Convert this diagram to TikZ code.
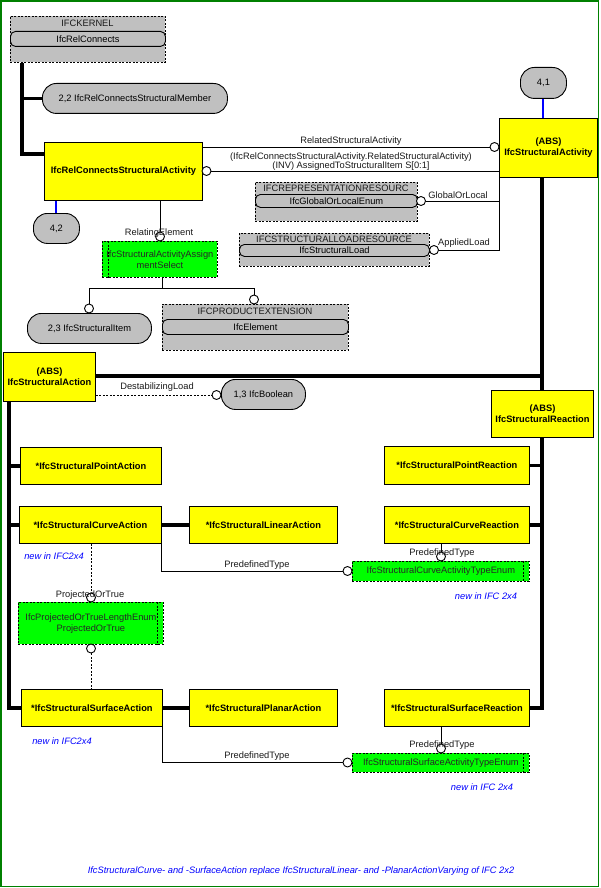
\documentclass[tikz,border=0pt]{standalone}
\usepackage{fontspec}
\setmainfont{Liberation Sans}
\usetikzlibrary{calc}
\definecolor{ifcyellow}{RGB}{255,255,0}
\definecolor{ifcgray}{RGB}{192,192,192}
\definecolor{ifcgreen}{RGB}{0,255,0}
\definecolor{framegreen}{RGB}{0,128,0}
\definecolor{noteblue}{RGB}{0,0,255}
\begin{document}
\begin{tikzpicture}[x=1pt,y=-1pt,
  font=\fontsize{9.3}{11}\selectfont,
  sz/.style 2 args={minimum width=#1,minimum height=#2},
  cls/.style={draw,fill=ifcyellow,line width=0.9,inner sep=0,align=center,anchor=north west,font=\fontsize{9.3}{11}\selectfont\bfseries},
  pill/.style={draw,fill=ifcgray,rounded corners=14,line width=0.9,inner sep=0,anchor=north west},
  pkg/.style={draw,fill=ifcgray,dash pattern=on 2pt off 1.5pt,line width=0.8,inner sep=0,anchor=north west},
  pkgin/.style={draw,fill=ifcgray,rounded corners=5,line width=0.9,inner sep=0,anchor=north west},
  enumbox/.style={draw,fill=ifcgreen,dash pattern=on 2pt off 1.5pt,line width=0.8,inner sep=0,align=center,anchor=north west,text=black!85},
  enumline/.style={dash pattern=on 2pt off 1.5pt,line width=0.8},
  conn/.style={line width=0.9},
  heavy/.style={line width=3.5},
  blueline/.style={draw=noteblue,line width=2},
  endc/.style={circle,draw,fill=white,minimum size=9,inner sep=0,line width=0.9},
  lbl/.style={inner sep=0,text=black!90},
  note/.style={inner sep=0,text=noteblue,font=\fontsize{9.3}{11}\selectfont\itshape}]
\useasboundingbox (0,0) rectangle (600,888);
\draw[framegreen,line width=1.5] (1,1) rectangle (598.5,886.5);

% packages and classes
\node[pkg,sz={155}{46}] (kernel) at (10,16) {};
\node[lbl] (kerneltitle) at (87.5,23.5) {IFCKERNEL};
\node[pkgin,sz={155}{15}] (relconnects) at (10,31) {IfcRelConnects};

\node[pill,sz={185}{30}] (m22) at (42,83) {2,2 IfcRelConnectsStructuralMember};
\node[cls,sz={158}{58}] (relconn) at (44,142) {IfcRelConnectsStructuralActivity};
\node[pill,sz={46}{30}] (p42) at (33,213) {4,2};
\node[pill,sz={46}{31}] (p41) at (520,67) {4,1};
\node[cls,sz={98}{59}] (act) at (499,118) {(ABS)\\IfcStructuralActivity};

\node[pkg,sz={162}{39}] (rep) at (255,182) {};
\node[lbl] (reptitle) at (336,188) {IFCREPRESENTATIONRESOURC};
\node[pkgin,sz={162}{13}] (glenum) at (255,194) {IfcGlobalOrLocalEnum};

\node[pkg,sz={190}{33}] (loadres) at (239,233) {};
\node[lbl] (loadtitle) at (334,239) {IFCSTRUCTURALLOADRESOURCE};
\node[pkgin,sz={190}{12}] (load) at (239,244) {IfcStructuralLoad};

\node[enumbox,sz={115}{36}] (assign) at (102,241) {IfcStructuralActivityAssign\\mentSelect};
\node[pill,sz={124}{30}] (item) at (27,313) {2,3 IfcStructuralItem};
\node[pkg,sz={186}{46}] (prodext) at (162,304) {};
\node[lbl] (prodtitle) at (255,311) {IFCPRODUCTEXTENSION};
\node[pkgin,sz={186}{15}] (element) at (162,319) {IfcElement};

\node[cls,sz={92}{49}] (action) at (3,352) {(ABS)\\IfcStructuralAction};
\node[pill,sz={84}{30}] (bool) at (221,379) {1,3 IfcBoolean};
\node[cls,sz={102}{47}] (reaction) at (491,390) {(ABS)\\IfcStructuralReaction};

\node[cls,sz={141}{37}] (pointaction) at (20,447) {*IfcStructuralPointAction};
\node[cls,sz={145}{38}] (pointreaction) at (384,446) {*IfcStructuralPointReaction};
\node[cls,sz={142}{37}] (curveaction) at (19,506) {*IfcStructuralCurveAction};
\node[cls,sz={148}{37}] (linearaction) at (189,506) {*IfcStructuralLinearAction};
\node[cls,sz={145}{37}] (curvereaction) at (384,506) {*IfcStructuralCurveReaction};
\node[note] (newca) at (54,556) {new in IFC2x4};

\node[enumbox,sz={145}{42}] (projenum) at (18,602) {IfcProjectedOrTrueLengthEnum\\ProjectedOrTrue};
\node[enumbox,sz={177}{20}] (curveenum) at (352,561) {IfcStructuralCurveActivityTypeEnum};
\node[note] (newcr) at (486,596) {new in IFC 2x4};

\node[cls,sz={141}{37}] (surfaceaction) at (21,689) {*IfcStructuralSurfaceAction};
\node[cls,sz={148}{37}] (planaraction) at (189,689) {*IfcStructuralPlanarAction};
\node[cls,sz={145}{37}] (surfacereaction) at (384,689) {*IfcStructuralSurfaceReaction};
\node[note] (newsa) at (62,741) {new in IFC2x4};
\node[enumbox,sz={177}{19}] (surfenum) at (352,753) {IfcStructuralSurfaceActivityTypeEnum};
\node[note] (newsr) at (482,787) {new in IFC 2x4};

\node[note] (footer) at (301,871) {IfcStructuralCurve- and -SurfaceAction replace IfcStructuralLinear- and -PlanarActionVarying of IFC 2x2};

% inner dashed lines of select/enum boxes
\draw[enumline] ([xshift=6]assign.north west) -- ([xshift=6]assign.south west);
\draw[enumline] ([xshift=-6]projenum.north east) -- ([xshift=-6]projenum.south east);
\draw[enumline] ([xshift=-6]curveenum.north east) -- ([xshift=-6]curveenum.south east);
\draw[enumline] ([xshift=-6]surfenum.north east) -- ([xshift=-6]surfenum.south east);

% end circles
\node[endc] (c1) at (494.5,147) {};
\node[endc] (c2) at (206.5,171) {};
\node[endc] (cgl) at (421,201) {};
\node[endc] (cal) at (434,250) {};
\node[endc] (crel) at (160,236.5) {};
\node[endc] (citem) at (89,308.5) {};
\node[endc] (celem) at (254,299.5) {};
\node[endc] (cbool) at (216.5,395) {};
\node[endc] (cpt1) at (91,597.5) {};
\node[endc] (cpt2) at (91,648.5) {};
\node[endc] (ccpt) at (347.5,571) {};
\node[endc] (ccr) at (441,556.5) {};
\node[endc] (cspt) at (347.5,762.5) {};
\node[endc] (csr) at (441,748.5) {};

% inheritance (thick) lines
\coordinate (kj) at (22,154);
\draw[heavy] (kernel.south -| kj) -- (kj) -- (kj -| relconn.west);
\draw[heavy] (m22.west -| kj) -- (m22.west);
\coordinate (rj) at (542,376);
\draw[heavy] (act.south -| rj) -- (rj) -- (rj -| action.east);
\draw[heavy] (rj) -- (reaction.north -| rj);
\coordinate (rb) at (542,708);
\draw[heavy] (reaction.south -| rb) -- (rb) -- (rb -| surfacereaction.east);
\draw[heavy] (pointreaction.east) -- (pointreaction.east -| rb);
\draw[heavy] (curvereaction.east) -- (curvereaction.east -| rb);
\coordinate (lb) at (9,708);
\draw[heavy] (action.south -| lb) -- (lb) -- (lb -| surfaceaction.west);
\draw[heavy] (pointaction.west -| lb) -- (pointaction.west);
\draw[heavy] (curveaction.west -| lb) -- (curveaction.west);
\draw[heavy] (curveaction.east) -- (linearaction.west);
\draw[heavy] (surfaceaction.east) -- (planaraction.west);

% blue lines
\draw[blueline] (relconn.south -| p42) -- (p42.north);
\draw[blueline] (p41.south) -- (act.north -| p41);

% attribute lines
\draw[conn] (relconn.east |- c1) -- (c1.west);
\node[lbl] (lrel) at (351,141) {RelatedStructuralActivity};
\draw[conn] (c2.east) -- (act.west |- c2);
\node[lbl] (linv1) at (351,157.5) {(IfcRelConnectsStructuralActivity.RelatedStructuralActivity)};
\node[lbl] (linv2) at (351,166) {(INV) AssignedToStructuralItem S[0:1]};
\draw[conn] (cgl.east) -- (cgl -| act.west);
\node[lbl] (lgl) at (458,195) {GlobalOrLocal};
\draw[conn] (cal.east) -- (cal -| act.west) -- (act.south west);
\node[lbl] (lal) at (464,243) {AppliedLoad};

\draw[conn] (relconn.south -| crel) -- (crel.north);
\node[lbl] (lrelel) at (159,233.5) {RelatingElement};
\coordinate (aj) at (162,288);
\draw[conn] (assign.south -| aj) -- (aj);
\draw[conn] (citem.north) -- (citem |- aj) -- (celem |- aj) -- (celem.north);

\draw[conn,dash pattern=on 2pt off 1.5pt] (action.east |- cbool) -- (cbool.west);
\node[lbl] (ldest) at (157,387) {DestabilizingLoad};

\draw[conn,dash pattern=on 2pt off 1.5pt] (curveaction.south -| cpt1) -- (cpt1.north);
\node[lbl] (lpt1) at (90,595) {ProjectedOrTrue};
\draw[conn,dash pattern=on 2pt off 1.5pt] (cpt2.south) -- (surfaceaction.north -| cpt2);

\draw[conn] (curveaction.south east) -- (curveaction.south east |- ccpt) -- (ccpt.west);
\node[lbl] (lcpt) at (257,565) {PredefinedType};
\draw[conn] (curvereaction.south -| ccr) -- (ccr.north);
\node[lbl] (lccr) at (442,553) {PredefinedType};

\draw[conn] (surfaceaction.south east) -- (surfaceaction.south east |- cspt) -- (cspt.west);
\node[lbl] (lspt) at (257,756) {PredefinedType};
\draw[conn] (surfacereaction.south -| csr) -- (csr.north);
\node[lbl] (lcsr) at (442,745) {PredefinedType};
\end{tikzpicture}
\end{document}
